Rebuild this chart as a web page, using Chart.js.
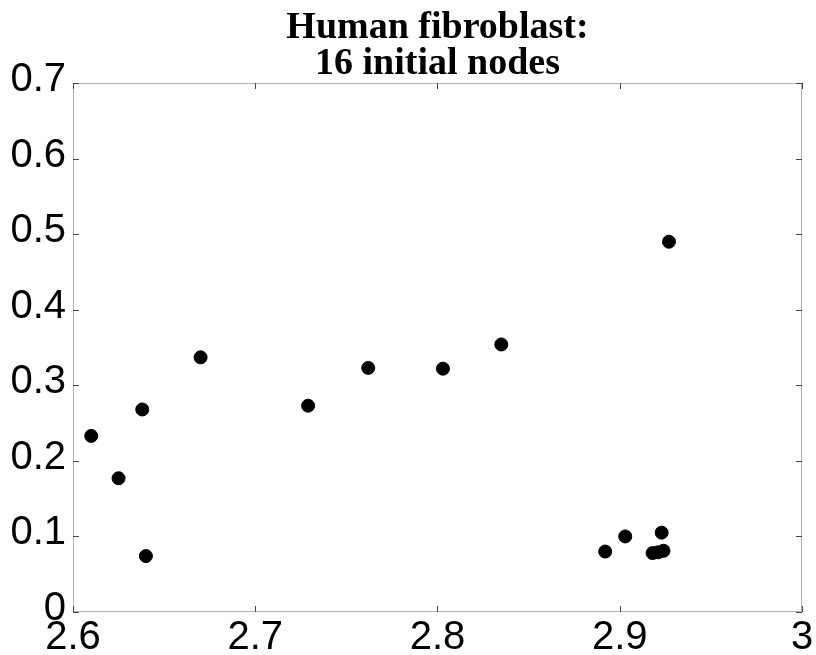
<!DOCTYPE html>
<html>
<head>
<meta charset="utf-8">
<script src="https://cdn.jsdelivr.net/npm/chart.js@4"></script>
<style>
  html, body { margin: 0; padding: 0; background: #fff; }
  #wrap { width: 816px; height: 655px; }
</style>
</head>
<body>
<div id="wrap"><canvas id="scatter" width="816" height="655"></canvas></div>
<script>
const titleLines = ['Human fibroblast:', '16 initial nodes'];

// node positions (x, y)
const xs = [2.610, 2.625, 2.638, 2.640, 2.670, 2.729, 2.762, 2.803, 2.835,
            2.892, 2.903, 2.918, 2.921, 2.924, 2.923, 2.927];
const ys = [0.233, 0.177, 0.268, 0.074, 0.337, 0.273, 0.323, 0.322, 0.354,
            0.080, 0.100, 0.078, 0.079, 0.081, 0.105, 0.490];

const xRange = [2.6, 3.0];
const yRange = [0, 0.7];

const points = xs.map((x, i) => ({ x, y: ys[i] }));

// dotted box round the plot area with short inward ticks on all four sides
const frame = {
  id: 'frame',
  afterDraw(chart) {
    const { ctx, chartArea: a, scales } = chart;
    ctx.save();
    ctx.strokeStyle = '#666';
    ctx.lineWidth = 1;
    ctx.setLineDash([1, 1]);
    ctx.strokeRect(a.left + 0.5, a.top + 0.5, a.right - a.left - 1, a.bottom - a.top - 1);
    ctx.setLineDash([]);
    ctx.strokeStyle = '#444';
    const len = 6;
    scales.x.ticks.forEach((t, i) => {
      const px = Math.round(scales.x.getPixelForTick(i)) + 0.5;
      ctx.beginPath();
      ctx.moveTo(px, a.bottom); ctx.lineTo(px, a.bottom - len);
      ctx.moveTo(px, a.top); ctx.lineTo(px, a.top + len);
      ctx.stroke();
    });
    scales.y.ticks.forEach((t, i) => {
      const py = Math.round(scales.y.getPixelForTick(i)) + 0.5;
      ctx.beginPath();
      ctx.moveTo(a.left, py); ctx.lineTo(a.left + len, py);
      ctx.moveTo(a.right, py); ctx.lineTo(a.right - len, py);
      ctx.stroke();
    });
    // title, centred over the plot area
    ctx.fillStyle = '#000';
    ctx.font = 'bold 38px "Liberation Serif", "Times New Roman", serif';
    ctx.textAlign = 'center';
    ctx.textBaseline = 'alphabetic';
    const cx = (a.left + a.right) / 2;
    ctx.fillText(titleLines[0], cx, 38);
    ctx.fillText(titleLines[1], cx, 74);
    ctx.restore();
  }
};

const tickFont = { family: '"Liberation Sans", Arial, sans-serif', size: 40 };

new Chart(document.getElementById('scatter'), {
  type: 'scatter',
  data: {
    datasets: [{
      data: points,
      backgroundColor: '#000',
      borderColor: '#000',
      pointRadius: 6.5,
      pointHoverRadius: 6.5
    }]
  },
  options: {
    responsive: false,
    animation: false,
    events: [],
    layout: { padding: { top: 83, right: 14, left: 0, bottom: 0 } },
    plugins: { legend: { display: false }, tooltip: { enabled: false }, title: { display: false } },
    scales: {
      x: {
        type: 'linear',
        min: xRange[0],
        max: xRange[1],
        grid: { display: false, drawTicks: false },
        border: { display: false },
        ticks: {
          stepSize: 0.1,
          padding: 2,
          color: '#000',
          font: tickFont,
          callback: v => String(+v.toFixed(1))
        },
        afterFit(scale) { scale.height = 43; }
      },
      y: {
        type: 'linear',
        min: yRange[0],
        max: yRange[1],
        grid: { display: false, drawTicks: false },
        border: { display: false },
        ticks: {
          stepSize: 0.1,
          padding: 7,
          labelOffset: -3,
          color: '#000',
          font: tickFont,
          callback: v => String(+v.toFixed(1))
        },
        afterFit(scale) { scale.width = 73; }
      }
    }
  },
  plugins: [frame]
});
</script>
</body>
</html>
